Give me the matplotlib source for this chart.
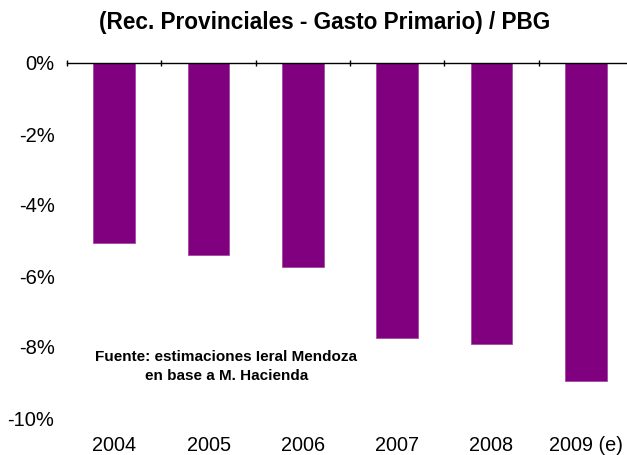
import numpy as np
import matplotlib.pyplot as plt
from matplotlib.ticker import FuncFormatter

# Datos: (Rec. Provinciales - Gasto Primario) / PBG, en %
anios = ['2004', '2005', '2006', '2007', '2008', '2009 (e)']
resultado = [-5.06, -5.41, -5.74, -7.74, -7.91, -8.96]

plt.rcParams['font.family'] = ['Liberation Sans', 'DejaVu Sans']

fig = plt.figure(figsize=(6.27, 4.55), dpi=100)
# el eje se extiende más allá del borde derecho, como en el original
ax = fig.add_axes([67 / 627, 37 / 455, 566 / 627, 355 / 455])

x = np.arange(len(anios))
ax.bar(x, resultado, width=0.44, color='#800080', edgecolor='#a04aa0', linewidth=0.6)

ax.set_xlim(-0.5, len(anios) - 0.5)
ax.set_ylim(-10, 0)

for s in ['left', 'right', 'bottom']:
    ax.spines[s].set_visible(False)
ax.spines['top'].set_color('black')
ax.spines['top'].set_linewidth(1.0)

ax.set_xticks(x)
ax.set_xticklabels(anios, fontsize=14.3)
ax.tick_params(axis='x', which='major', length=0, pad=13)
ax.set_xticks(np.arange(-0.5, len(anios)), minor=True)
ax.tick_params(axis='x', which='minor', top=True, bottom=False, direction='inout', length=4, width=1)

ax.set_yticks(np.arange(-10, 1, 2))
ax.yaxis.set_major_formatter(FuncFormatter(lambda v, p: f'{v:.0f}%'))
ax.tick_params(axis='y', length=0, labelsize=14.5, pad=9)

fig.text(325 / 627, 1 - 23 / 455, '(Rec. Provinciales - Gasto Primario) / PBG',
         ha='center', va='center', fontsize=16.3, fontweight='bold')

ax.text(1.19, -8.54, 'Fuente: estimaciones Ieral Mendoza\nen base a M. Hacienda',
        ha='center', va='center', fontsize=11, fontweight='bold', linespacing=1.45)

fig.savefig('out.png', dpi=100)
